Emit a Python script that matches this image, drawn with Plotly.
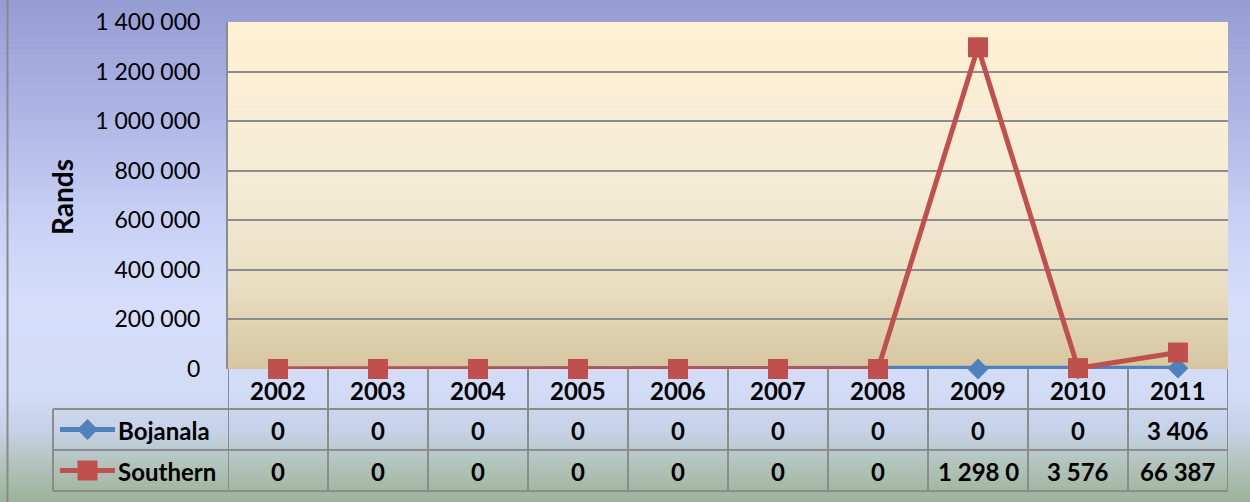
import plotly.graph_objects as go

# ---- data ----
years = ["2002", "2003", "2004", "2005", "2006", "2007", "2008", "2009", "2010", "2011"]
bojanala = [0, 0, 0, 0, 0, 0, 0, 0, 0, 3406]
southern = [0, 0, 0, 0, 0, 0, 0, 1298000, 3576, 66387]
series_names = ["Bojanala", "Southern"]
y_ticks = [0, 200000, 400000, 600000, 800000, 1000000, 1200000, 1400000]

W, H = 1250, 502
PX0, PX1 = 228, 1228        # plot area x (px)
PY0, PY1 = 22, 369          # plot area y (px, top/bottom)
ROWS = [369, 409, 450, 491] # table row edges (px)
LEG_X0 = 53

BLUE = "#4F81BD"
RED = "#C0504D"
GRID = "#8C8C8C"
FONT = "Lato"


def px(x):
    return x / W


def py(y):
    return 1 - y / H


def hex2rgb(h):
    h = h.lstrip("#")
    return tuple(int(h[i:i + 2], 16) for i in (0, 2, 4))


def interp(stops, t):
    for (t0, c0), (t1, c1) in zip(stops, stops[1:]):
        if t0 <= t <= t1:
            f = 0 if t1 == t0 else (t - t0) / (t1 - t0)
            a, b = hex2rgb(c0), hex2rgb(c1)
            return "rgb(%d,%d,%d)" % tuple(round(a[i] + (b[i] - a[i]) * f) for i in range(3))
    return stops[-1][1]


def fmt(v):
    s = f"{v:,}".replace(",", " ")
    return s[:7]  # text clipped by the cell width


fig = go.Figure()

shapes = []
# paper gradient
paper_stops = [(0, "#969CD2"), (0.2, "#AAB2E4"), (0.45, "#C9D2F5"), (0.6, "#D5DDFA"),
               (0.78, "#D3DCF6"), (0.86, "#C5D1E6"), (0.93, "#B0C2B8"), (1.0, "#9CB39B")]
N = 100
for i in range(N):
    y0 = H * i / N
    y1 = min(H, H * (i + 1) / N + 0.6)
    shapes.append(dict(type="rect", xref="paper", yref="paper", x0=0, x1=1, y0=py(y0), y1=py(y1),
                       fillcolor=interp(paper_stops, (i + 0.5) / N), line_width=0, layer="below"))
# plot-area gradient
plot_stops = [(0, "#FFF0D3"), (0.45, "#F4ECD6"), (0.75, "#E9DFC3"), (1.0, "#D6C6A0")]
M = 70
for i in range(M):
    y0 = PY0 + (PY1 - PY0) * i / M
    y1 = min(PY1, PY0 + (PY1 - PY0) * (i + 1) / M + 0.6)
    shapes.append(dict(type="rect", xref="paper", yref="paper", x0=px(PX0), x1=px(PX1),
                       y0=py(y0), y1=py(y1),
                       fillcolor=interp(plot_stops, (i + 0.5) / M), line_width=0, layer="below"))

# outer frame left line
shapes.append(dict(type="line", xref="paper", yref="paper", x0=px(7.5), x1=px(7.5), y0=0, y1=1,
                   line=dict(color="#8A8A8A", width=2), layer="below"))

# table lines
tl = dict(color=GRID, width=2)
n = len(years)
for k in range(n + 1):
    shapes.append(dict(type="line", xref="x", yref="paper", x0=k - 0.5, x1=k - 0.5,
                       y0=py(ROWS[0]), y1=py(ROWS[3]), line=tl, layer="above"))
shapes.append(dict(type="line", xref="paper", yref="paper", x0=px(LEG_X0), x1=px(LEG_X0),
                   y0=py(ROWS[1]), y1=py(ROWS[3]), line=tl, layer="above"))
for r in ROWS[1:]:
    shapes.append(dict(type="line", xref="paper", yref="paper", x0=px(LEG_X0), x1=px(PX1),
                       y0=py(r), y1=py(r), line=tl, layer="above"))

annotations = []
tf = dict(family=FONT, size=24, color="black")
# header row: years
for i, yr in enumerate(years):
    annotations.append(dict(x=i, y=py((ROWS[0] + ROWS[1]) / 2 + 1), xref="x", yref="paper",
                            xanchor="center", yanchor="middle",
                            text="<b>%s</b>" % yr, showarrow=False, font=tf))
# value rows
for vals, r in ((bojanala, 1), (southern, 2)):
    yc = py((ROWS[r] + ROWS[r + 1]) / 2 + 1)
    for i, v in enumerate(vals):
        annotations.append(dict(x=i, y=yc, xref="x", yref="paper", text="<b>%s</b>" % fmt(v),
                                xanchor="center", yanchor="middle",
                                showarrow=False, font=tf))
# series labels in table
for name, r in zip(series_names, (1, 2)):
    yc = py((ROWS[r] + ROWS[r + 1]) / 2 + 1)
    annotations.append(dict(x=px(116), y=yc, xref="paper", yref="paper", text="<b>%s</b>" % name,
                            xanchor="left", yanchor="middle", showarrow=False, font=tf))
# y-axis title
annotations.append(dict(x=px(62), y=py(197), xref="paper", yref="paper", text="<b>Rands</b>",
                        textangle=-90, xanchor="center", yanchor="middle", showarrow=False,
                        font=dict(family=FONT, size=28, color="black")))

# ---- data traces ----
fig.add_trace(go.Scatter(x=years, y=bojanala, name=series_names[0], mode="lines+markers",
                         line=dict(color=BLUE, width=5),
                         marker=dict(symbol="diamond", size=16, color=BLUE),
                         cliponaxis=False, showlegend=False))
fig.add_trace(go.Scatter(x=years, y=southern, name=series_names[1], mode="lines+markers",
                         line=dict(color=RED, width=5),
                         marker=dict(symbol="square", size=20, color=RED),
                         cliponaxis=False, showlegend=False))

# legend keys inside the table
for name, color, sym, size, r in ((series_names[0], BLUE, "diamond", 16, 1),
                                  (series_names[1], RED, "square", 20, 2)):
    yc = (ROWS[r] + ROWS[r + 1]) / 2
    fig.add_trace(go.Scatter(x=[60, 115], y=[yc, yc], xaxis="x2", yaxis="y2", mode="lines",
                             line=dict(color=color, width=5), showlegend=False, hoverinfo="skip"))
    fig.add_trace(go.Scatter(x=[87.5], y=[yc], xaxis="x2", yaxis="y2", mode="markers",
                             marker=dict(symbol=sym, size=size, color=color),
                             showlegend=False, hoverinfo="skip"))

fig.update_layout(
    width=W, height=H,
    autosize=False,
    margin=dict(l=0, r=0, t=0, b=0, pad=0, autoexpand=False),
    paper_bgcolor="#D5DDFA",
    plot_bgcolor="rgba(0,0,0,0)",
    separators=". ",
    font=dict(family=FONT, size=23, color="black"),
    shapes=shapes,
    annotations=annotations,
    xaxis=dict(domain=[px(PX0), px(PX1)], type="category", range=[-0.5, n - 0.5],
               showticklabels=False, showgrid=False, zeroline=False, showline=False,
               automargin=False),
    yaxis=dict(domain=[py(PY1), py(PY0)], range=[0, 1400000],
               tickvals=y_ticks, tickformat=",d", showgrid=True, gridcolor=GRID, gridwidth=1.5,
               zeroline=False, showline=True, linecolor=GRID, linewidth=2,
               ticks="", ticklabelstandoff=21, automargin=False,
               tickfont=dict(family=FONT, size=23, color="black")),
    xaxis2=dict(domain=[0, 1], range=[0, W], visible=False, anchor="y2", automargin=False),
    yaxis2=dict(domain=[0, 1], range=[H, 0], visible=False, anchor="x2", automargin=False),
)

fig.write_html("out.html", config={"displayModeBar": False},
               post_script="document.body.style.margin='0';document.body.style.overflow='hidden';")
